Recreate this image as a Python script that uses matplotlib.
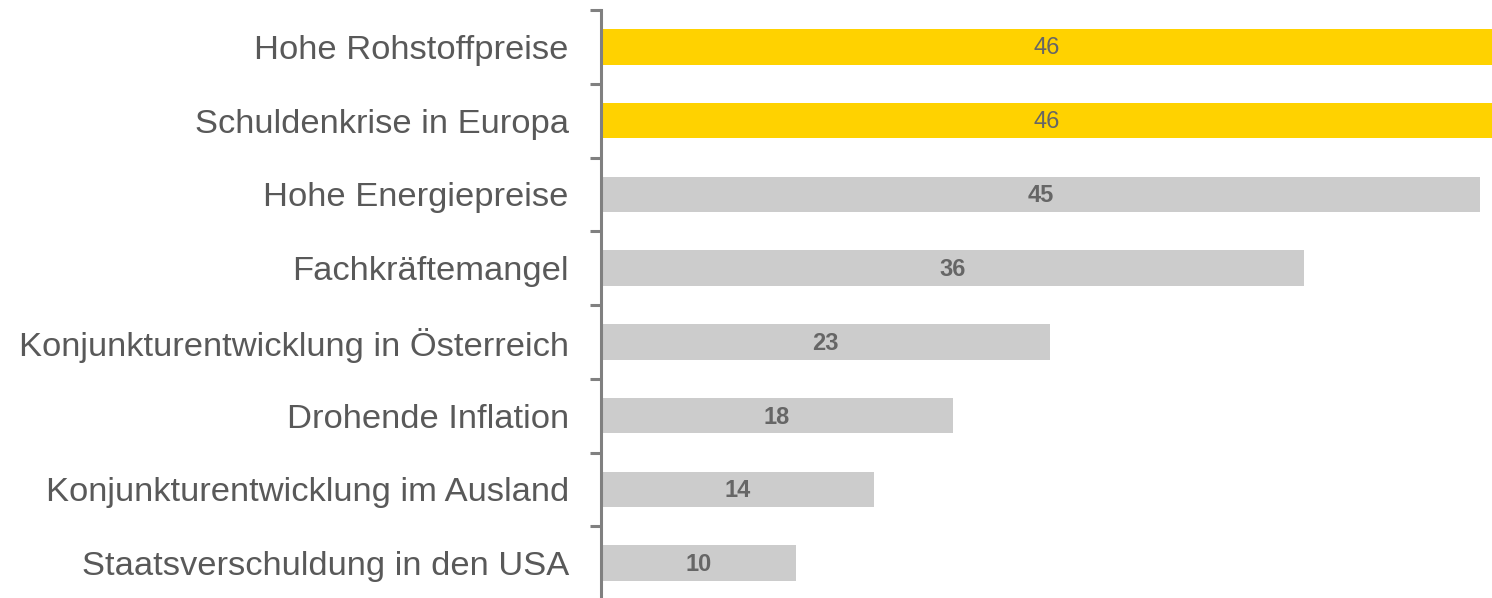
import matplotlib
matplotlib.use("Agg")
import matplotlib.pyplot as plt
import numpy as np

categories = ["Hohe Rohstoffpreise", "Schuldenkrise in Europa", "Hohe Energiepreise",
              "Fachkräftemangel", "Konjunkturentwicklung in Österreich", "Drohende Inflation",
              "Konjunkturentwicklung im Ausland", "Staatsverschuldung in den USA"]
values = [46, 46, 45, 36, 23, 18, 14, 10]
highlight = [True, True, False, False, False, False, False, False]

plt.rcParams['font.family'] = ['Liberation Sans', 'DejaVu Sans']

fig = plt.figure(figsize=(14.92, 5.98), dpi=100)
ax = fig.add_axes([600.7 / 1492, -2 / 598, 1 - 600.7 / 1492, 1 - 8 / 598])

n = len(categories)
y = np.arange(n)
colors = ["#FFD200" if h else "#CCCCCC" for h in highlight]
ax.barh(y, values, height=0.48, color=colors, zorder=2)
ax.set_ylim(n - 0.5, -0.5)
ax.set_xlim(0, 45.6)

for yi, v, h in zip(y, values, highlight):
    ax.text(min(v, 45.6) / 2, yi + 0.02, str(v), ha="center", va="center",
            fontsize=17, fontweight="normal" if h else "bold", color="#666666", zorder=3)

ax.set_yticks(y)
ax.set_yticklabels(categories, fontsize=24.8, color="#595959")
ax.tick_params(axis="y", which="major", length=0, pad=23)
ax.set_yticks(np.arange(-0.5, n, 1), minor=True)
ax.tick_params(axis="y", which="minor", length=8, width=2.2, color="#808080", direction="out")
ax.set_xticks([])
for s in ["top", "right", "bottom"]:
    ax.spines[s].set_visible(False)
ax.spines["left"].set_color("#808080")
ax.spines["left"].set_linewidth(2.2)

fig.savefig("out.png", dpi=100)
